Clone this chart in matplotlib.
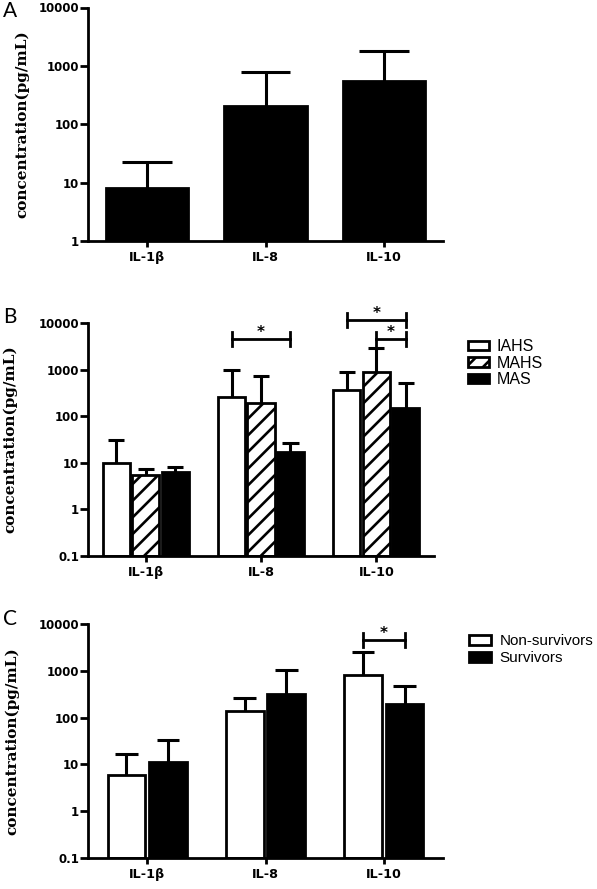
import numpy as np
import matplotlib.pyplot as plt
from matplotlib import transforms

# dados
citocinas = ['IL-1β', 'IL-8', 'IL-10']

# painel A (todos os pacientes)
media_a = [8.05, 204, 558]
dp_a = [14.4, 591, 1232]

# painel B
grupos_b = ['IAHS', 'MAHS', 'MAS']
media_iahs = [10, 254, 372]
dp_iahs = [21, 736, 524]
media_mahs = [5.4, 192, 881]
dp_mahs = [1.9, 531, 1979]
media_mas = [6.2, 17.1, 147]
dp_mas = [2.0, 9.9, 372]

# painel C
grupos_c = ['Non-survivors', 'Survivors']
media_non = [5.8, 141, 820]
dp_non = [10.7, 127, 1780]
media_sur = [11, 316, 193]
dp_sur = [23, 734, 292]

ticks_a = [1, 10, 100, 1000, 10000]
rotulos_a = ['1', '10', '100', '1000', '10000']
ticks_bc = [0.1, 1, 10, 100, 1000, 10000]
rotulos_bc = ['0.1', '1', '10', '100', '1000', '10000']

# comparacoes com p<0.05: (citocina, barra i, barra j)
sig_b = [(1, 0, 2), (2, 0, 2), (2, 1, 2)]
sig_c = [(2, 0, 1)]

plt.rcParams['hatch.linewidth'] = 1.9

W, H = 597, 889
fig = plt.figure(figsize=(W / 100, H / 100), dpi=100)


def eixo(esq, dir, topo, base):
    # converte pixels da figura em fracoes
    return fig.add_axes([esq / W, 1 - base / H, (dir - esq) / W, (base - topo) / H])


def barras(ax, x, media, dp, larg, cor, hatch=None, label=None):
    media = np.array(media)
    dp = np.array(dp)
    fundo = ax.get_ylim()[0]
    b = ax.bar(x, media - fundo, larg, bottom=fundo, color=cor, edgecolor='black',
               linewidth=2, hatch=hatch, label=label, zorder=2)
    cap = larg * 0.3
    ax.vlines(x, media, media + dp, color='black', lw=2.2, zorder=1)
    ax.hlines(media + dp, x - cap, x + cap, color='black', lw=2.2, zorder=1)
    return b


def estilo(ax, ticks, rotulos, xlbl):
    ax.set_yscale('log')
    ax.set_yticks(ticks)
    ax.set_yticklabels(rotulos)
    ax.minorticks_off()
    ax.set_xticks(range(len(citocinas)))
    ax.set_xticklabels(citocinas)
    ax.set_xlim(-0.5, 2.5)
    for lado in ['top', 'right']:
        ax.spines[lado].set_visible(False)
    for lado in ['left', 'bottom']:
        ax.spines[lado].set_linewidth(2)
    ax.tick_params(axis='y', length=5.5, width=2, pad=1)
    ax.tick_params(axis='x', length=4, width=2, pad=3.5)
    for t in ax.get_yticklabels():
        t.set_fontweight('bold')
        t.set_fontsize(8.5)
    for t in ax.get_xticklabels():
        t.set_fontweight('bold')
        t.set_fontsize(9.2)
    ax.set_ylabel('concentration(pg/mL)', family='DejaVu Serif', fontweight='bold', fontsize=11)
    ax.yaxis.set_label_coords(xlbl, 0.5)


def colchete(ax, x1, x2, nivel):
    tr = transforms.blended_transform_factory(ax.transData, ax.transAxes)
    d = 0.03
    ax.plot([x1, x2], [nivel, nivel], color='black', lw=2, transform=tr, clip_on=False)
    ax.plot([x1, x1], [nivel - d, nivel + d], color='black', lw=2, transform=tr, clip_on=False)
    ax.plot([x2, x2], [nivel - d, nivel + d], color='black', lw=2, transform=tr, clip_on=False)
    ax.annotate('*', xy=((x1 + x2) / 2, nivel), xycoords=tr, xytext=(0, 1.5),
                textcoords='offset points', ha='center', va='baseline',
                fontsize=11, fontweight='bold', annotation_clip=False)


x = np.arange(len(citocinas))

# ---- A ----
axA = eixo(88, 443, 7.5, 241)
axA.set_ylim(1, 10000)
barras(axA, x, media_a, dp_a, 0.695, 'black')
estilo(axA, ticks_a, rotulos_a, -0.166)

# ---- B ----
axB = eixo(88, 434, 323, 556)
axB.set_ylim(0.1, 10000)
desloc_b = [-0.255, 0, 0.255]
larg_b = 0.235
barras(axB, x + desloc_b[0], media_iahs, dp_iahs, larg_b, 'white', label=grupos_b[0])
barras(axB, x + desloc_b[1], media_mahs, dp_mahs, larg_b, 'white', hatch='//', label=grupos_b[1])
barras(axB, x + desloc_b[2], media_mas, dp_mas, larg_b, 'black', label=grupos_b[2])
estilo(axB, ticks_bc, rotulos_bc, -0.205)
niveis_b = [0.931, 1.013, 0.931]
for (c, i, j), nv in zip(sig_b, niveis_b):
    colchete(axB, c + desloc_b[i], c + desloc_b[j], nv)
axB.legend(loc='upper left', bbox_to_anchor=(468 / W, 1 - 339 / H), bbox_transform=fig.transFigure,
           frameon=False, prop={'family': 'Liberation Sans', 'size': 11.5},
           handlelength=1.3, handleheight=0.55, handletextpad=0.5, labelspacing=0.1,
           borderpad=0, borderaxespad=0)

# ---- C ----
axC = eixo(88, 443, 624.3, 857.7)
axC.set_ylim(0.1, 10000)
desloc_c = [-0.175, 0.175]
larg_c = 0.32
barras(axC, x + desloc_c[0], media_non, dp_non, larg_c, 'white', label=grupos_c[0])
barras(axC, x + desloc_c[1], media_sur, dp_sur, larg_c, 'black', label=grupos_c[1])
estilo(axC, ticks_bc, rotulos_bc, -0.194)
for c, i, j in sig_c:
    colchete(axC, c + desloc_c[i], c + desloc_c[j], 0.933)
axC.legend(loc='upper left', bbox_to_anchor=(469 / W, 1 - 634 / H), bbox_transform=fig.transFigure,
           frameon=False, prop={'family': 'Liberation Sans', 'size': 11},
           handlelength=1.45, handleheight=0.65, handletextpad=0.55, labelspacing=0.2,
           borderpad=0, borderaxespad=0)

# letras dos paineis
for letra, yb in [('A', 17), ('B', 323), ('C', 625)]:
    fig.text(3 / W, 1 - yb / H, letra, family='Lato', fontsize=15, va='baseline')

fig.savefig('out.png', dpi=100)
